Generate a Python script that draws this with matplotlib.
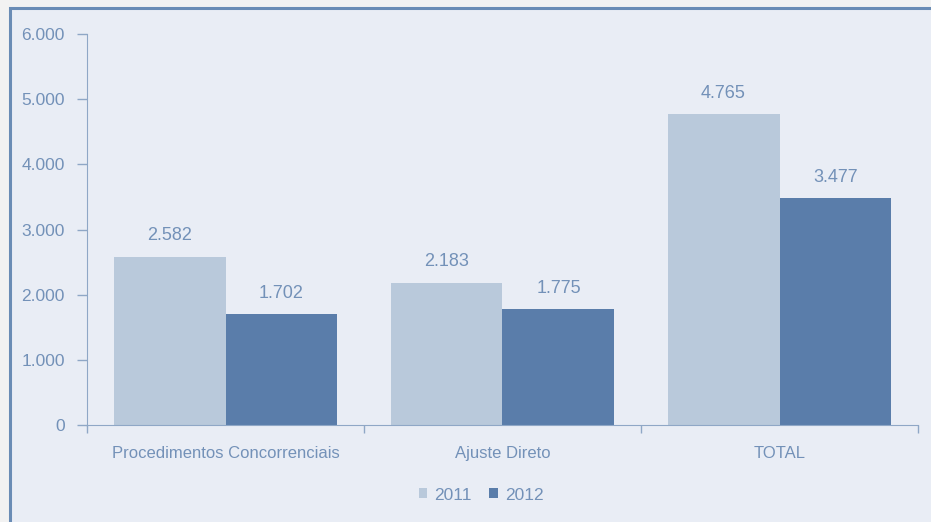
import matplotlib.pyplot as plt
from matplotlib.patches import Rectangle
import numpy as np

categories = ['Procedimentos Concorrenciais', 'Ajuste Direto', 'TOTAL']
years = ['2011', '2012']
values_2011 = [2582, 2183, 4765]
values_2012 = [1702, 1775, 3477]
yticks = [0, 1000, 2000, 3000, 4000, 5000, 6000]

bg = '#E9EDF5'
c2011 = '#B9C9DB'
c2012 = '#5A7DAA'
txt = '#7391B8'
axis_c = '#8FA7C6'

plt.rcParams['font.family'] = ['Liberation Sans', 'DejaVu Sans']

fig = plt.figure(figsize=(9.31, 5.22), dpi=100)
fig.patch.set_facecolor('#F2F2F2')
# chart area with border on top and left
fig.patches.append(Rectangle((10 / 931, -0.1), 1.2, (522 - 8) / 522 + 0.1,
                             transform=fig.transFigure, facecolor=bg,
                             edgecolor='#6A8CB5', linewidth=2.2, zorder=-5))

ax = fig.add_axes([87 / 931, (522 - 425) / 522, (918 - 87) / 931, (425 - 34) / 522])
ax.set_facecolor('none')

x = np.arange(len(categories))
w = 0.404
b1 = ax.bar(x - w / 2, values_2011, w, color=c2011, label=years[0])
b2 = ax.bar(x + w / 2, values_2012, w, color=c2012, label=years[1])

for bars, vals in ((b1, values_2011), (b2, values_2012)):
    for r, v in zip(bars, vals):
        ax.text(r.get_x() + r.get_width() / 2, v + 190,
                f'{v:,}'.replace(',', '.'), ha='center', va='bottom',
                color=txt, fontsize=13)

ax.set_xlim(-0.5, 2.5)
ax.set_ylim(0, 6000)
ax.set_yticks(yticks)
ax.set_yticklabels([f'{v:,}'.replace(',', '.') for v in yticks])
ax.set_xticks(x)
ax.set_xticklabels(categories)
ax.set_xticks([-0.5, 0.5, 1.5, 2.5], minor=True)
ax.tick_params(axis='x', which='major', length=0, pad=15, labelcolor=txt, labelsize=12)
ax.tick_params(axis='x', which='minor', length=6, color=axis_c, width=1)
ax.tick_params(axis='y', length=7, color=axis_c, width=1, pad=9, labelcolor=txt, labelsize=12.5)

for s in ('top', 'right'):
    ax.spines[s].set_visible(False)
ax.spines['left'].set_color(axis_c)
ax.spines['bottom'].set_color(axis_c)

ax.legend(loc='upper center', bbox_to_anchor=(0.474, -0.12), ncol=2, frameon=False,
          fontsize=12.5, labelcolor=txt, handlelength=0.5, handleheight=0.5,
          handletextpad=0.4, columnspacing=1.0)

fig.savefig('out.png', dpi=100, facecolor=fig.get_facecolor())
